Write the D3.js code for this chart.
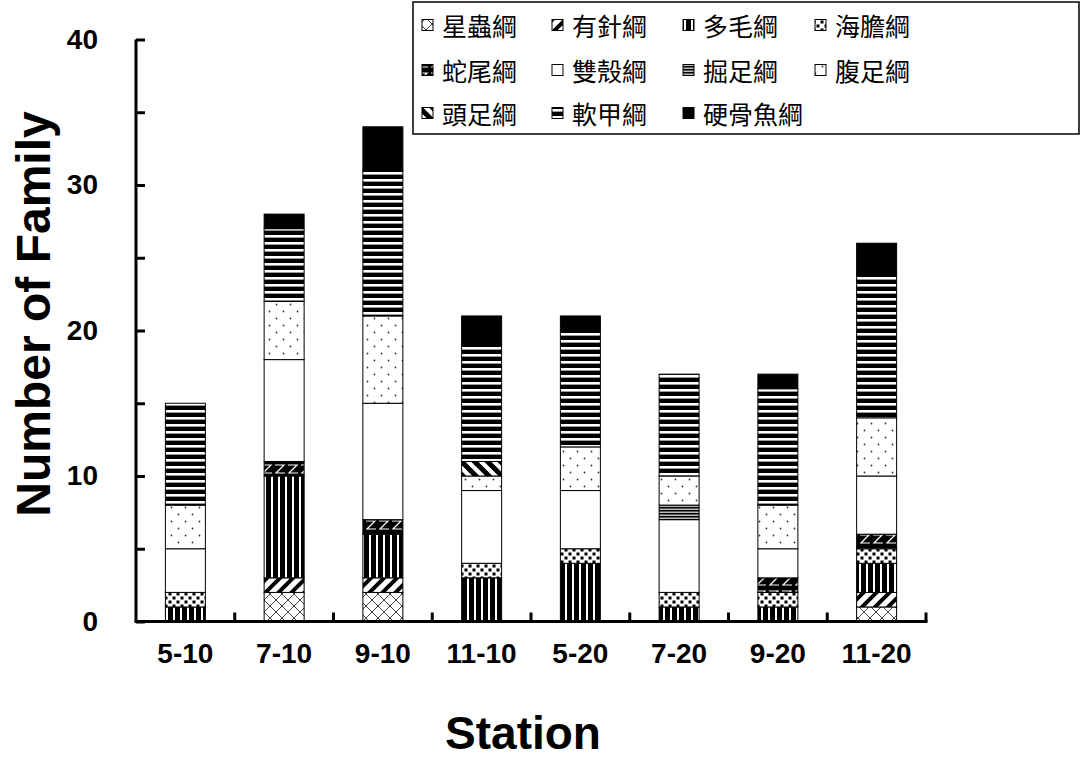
<!DOCTYPE html>
<html><head><meta charset="utf-8">
<script src="https://cdn.jsdelivr.net/npm/d3@7"></script>
<style>
html,body{margin:0;padding:0;background:#fff;}
svg{display:block;}
</style></head>
<body>
<svg id="chart" width="1083" height="760"></svg>
<script>
// ---- data ----
const stations = ["5-10","7-10","9-10","11-10","5-20","7-20","9-20","11-20"];
const classes = ["星蟲綱","有針綱","多毛綱","海膽綱","蛇尾綱","雙殼綱","掘足綱","腹足綱","頭足綱","軟甲綱","硬骨魚綱"];
const sipuncula   = [0,2,2,0,0,0,0,1];
const nemertea    = [0,1,1,0,0,0,0,1];
const polychaeta  = [1,7,3,3,4,1,1,2];
const echinoidea  = [1,0,0,1,1,1,1,1];
const ophiuroidea = [0,1,1,0,0,0,1,1];
const bivalvia    = [3,7,8,5,4,5,2,4];
const scaphopoda  = [0,0,0,0,0,1,0,0];
const gastropoda  = [3,4,6,1,3,2,3,4];
const cephalopoda = [0,0,0,1,0,0,0,0];
const malacostraca= [7,5,10,8,8,7,8,10];
const osteichthyes= [0,1,3,2,1,0,1,2];
const seriesValues = [sipuncula,nemertea,polychaeta,echinoidea,ophiuroidea,bivalvia,scaphopoda,gastropoda,cephalopoda,malacostraca,osteichthyes];
const yTicks = [0,5,10,15,20,25,30,35,40];
const yLabels = [0,10,20,30,40];

// ---- build table ----
const table = stations.map((s,i)=>{
  const row = {station:s};
  classes.forEach((c,j)=>row[c]=seriesValues[j][i]);
  return row;
});
const stacked = d3.stack().keys(classes)(table);

const svg = d3.select("#chart");
const defs = svg.append("defs");

function pat(id,w,h,build){
  const p = defs.append("pattern").attr("id",id).attr("patternUnits","userSpaceOnUse")
    .attr("width",w).attr("height",h);
  build(p);
}
// 星蟲綱 crosshatch
pat("p0",12,12,p=>{
  p.append("rect").attr("width",12).attr("height",12).attr("fill","#fff");
  p.append("path").attr("d","M0,0L12,12M12,0L0,12").attr("stroke","#444").attr("stroke-width",1);
});
// 有針綱 forward diagonal
pat("p1",13,13,p=>{
  p.append("rect").attr("width",13).attr("height",13).attr("fill","#fff");
  p.append("path").attr("d","M0,13L13,0M-4,4L4,-4M9,17L17,9").attr("stroke","#000").attr("stroke-width",4);
});
// 多毛綱 vertical stripes
pat("p2",7,7,p=>{
  p.append("rect").attr("width",7).attr("height",7).attr("fill","#000");
  p.append("rect").attr("x",5).attr("width",2).attr("height",7).attr("fill","#fff");
});
// 海膽綱 checker dots
pat("p3",8,8,p=>{
  p.append("rect").attr("width",8).attr("height",8).attr("fill","#fff");
  p.append("rect").attr("x",0.5).attr("y",0.5).attr("width",3).attr("height",3).attr("fill","#000");
  p.append("rect").attr("x",4.5).attr("y",4.5).attr("width",3).attr("height",3).attr("fill","#000");
});
// 蛇尾綱 black with white zigzag
pat("p4",13,14,p=>{
  p.append("rect").attr("width",13).attr("height",14).attr("fill","#000");
  p.append("path").attr("d","M2,3L11,3L3,11L12,11").attr("stroke","#fff").attr("stroke-width",1.2).attr("fill","none");
});
// 雙殼綱 white
pat("p5",4,4,p=>{ p.append("rect").attr("width",4).attr("height",4).attr("fill","#fff"); });
// 掘足綱 fine horizontal lines
pat("p6",4,3,p=>{
  p.append("rect").attr("width",4).attr("height",3).attr("fill","#bbb");
  p.append("rect").attr("width",4).attr("height",1.5).attr("fill","#000");
});
// 腹足綱 sparse dots
pat("p7",14,14,p=>{
  p.append("rect").attr("width",14).attr("height",14).attr("fill","#fff");
  p.append("circle").attr("cx",3.5).attr("cy",3.5).attr("r",0.9).attr("fill","#333");
  p.append("circle").attr("cx",10.5).attr("cy",10.5).attr("r",0.9).attr("fill","#333");
});
// 頭足綱 backslash thick
pat("p8",13,13,p=>{
  p.append("rect").attr("width",13).attr("height",13).attr("fill","#fff");
  p.append("path").attr("d","M0,0L13,13M-4,9L4,17M9,-4L17,4").attr("stroke","#000").attr("stroke-width",5);
});
// 軟甲綱 horizontal stripes
pat("p9",7,7,p=>{
  p.append("rect").attr("width",7).attr("height",7).attr("fill","#000");
  p.append("rect").attr("y",4).attr("width",7).attr("height",2.6).attr("fill","#fff");
});
// 硬骨魚綱 solid black
pat("p10",4,4,p=>{ p.append("rect").attr("width",4).attr("height",4).attr("fill","#000"); });

const fillOf = i => `url(#p${i})`;

// ---- scales ----
const x = d3.scaleBand().domain(stations).range([136,926]).paddingInner(0.595).paddingOuter(0.2975);
const y = d3.scaleLinear().domain([0,40]).range([621.5,39.5]);

// ---- bars ----
const g = svg.append("g");
stacked.forEach((layer,li)=>{
  g.append("g").selectAll("rect").data(layer.filter(d=>d[1]-d[0]>0)).join("rect")
    .attr("x",d=>x(d.data.station))
    .attr("width",x.bandwidth())
    .attr("y",d=>y(d[1]))
    .attr("height",d=>y(d[0])-y(d[1]))
    .attr("fill",fillOf(li))
    .attr("stroke","#000").attr("stroke-width",1);
});

// ---- y axis ----
const yAxis = d3.axisLeft(y).tickValues(yTicks).tickSize(-9).tickPadding(38)
  .tickFormat(d=>yLabels.includes(d)?d:"");
const ya = svg.append("g").attr("transform","translate(136,0)").call(yAxis);
ya.select(".domain").attr("d",`M0,${y(40)}V${y(0)}`).attr("stroke","#000").attr("stroke-width",3);
ya.selectAll(".tick line").attr("stroke","#000").attr("stroke-width",3);
ya.selectAll(".tick text").attr("font-family","'Liberation Sans',Arial,sans-serif")
  .attr("font-weight","bold").attr("font-size",28).attr("fill","#000");

// ---- x axis ----
const xAxis = d3.axisBottom(x).tickSize(0).tickPadding(22);
const xa = svg.append("g").attr("transform",`translate(0,${y(0)})`).call(xAxis);
xa.select(".domain").attr("d","M134.5,0H927.5").attr("stroke","#000").attr("stroke-width",3);
xa.selectAll(".tick text").attr("font-family","'Liberation Sans',Arial,sans-serif")
  .attr("font-weight","bold").attr("font-size",28).attr("fill","#000").attr("dy","0.71em");
// boundary ticks
const bounds = stations.map(s=>x(s)+x.bandwidth()+(x.step()-x.bandwidth())/2);
xa.append("g").selectAll("line").data(bounds).join("line")
  .attr("x1",d=>d).attr("x2",d=>d).attr("y1",0).attr("y2",-9)
  .attr("stroke","#000").attr("stroke-width",3);

// ---- axis titles ----
svg.append("text").attr("x",523).attr("y",749).attr("text-anchor","middle")
  .attr("font-family","'Liberation Sans',Arial,sans-serif").attr("font-weight","bold")
  .attr("font-size",46).text("Station");
svg.append("text").attr("transform","translate(50,314) rotate(-90)").attr("text-anchor","middle")
  .attr("font-family","'Liberation Sans',Arial,sans-serif").attr("font-weight","bold")
  .attr("font-size",48).text("Number of Family");

// ---- legend ----
const lg = svg.append("g");
lg.append("rect").attr("x",413).attr("y",2).attr("width",666).attr("height",132)
  .attr("fill","#fff").attr("stroke","#000").attr("stroke-width",1.5);
const colX = [422,552,683,815];
const rowY = [25,70,113];
classes.forEach((c,i)=>{
  const cx = colX[i%4], cy = rowY[Math.floor(i/4)];
  lg.append("rect").attr("x",cx).attr("y",cy-5.5).attr("width",11).attr("height",11)
    .attr("fill",fillOf(i)).attr("stroke","#000").attr("stroke-width",1);
  lg.append("text").attr("x",cx+20).attr("y",cy).attr("dominant-baseline","central")
    .attr("font-family","'Noto Sans CJK TC','Noto Sans CJK SC',sans-serif")
    .attr("font-size",25).attr("fill","#000").text(c);
});
</script>
</body></html>
